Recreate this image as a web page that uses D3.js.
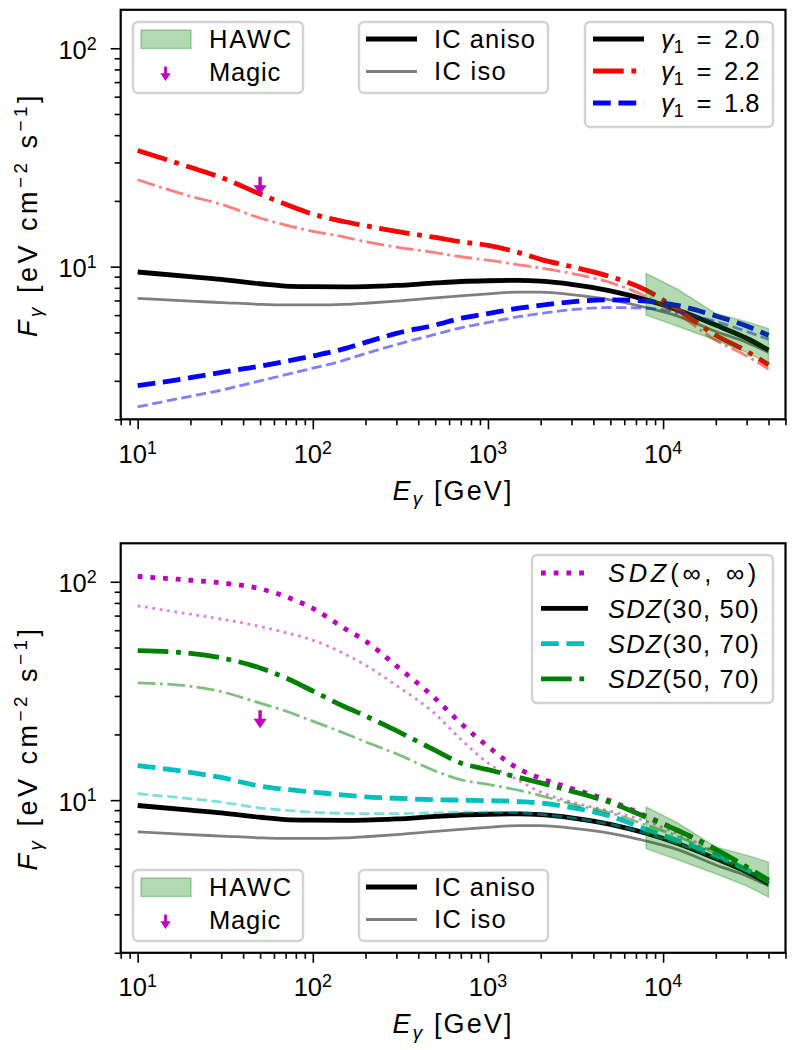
<!DOCTYPE html>
<html><head><meta charset="utf-8">
<script src="https://cdn.jsdelivr.net/npm/d3@7"></script>
<style>body{margin:0;background:#fff} text{white-space:pre; font-family:"Liberation Sans", Arial, sans-serif;}</style>
</head><body>
<svg id="c" width="794" height="1050" xmlns="http://www.w3.org/2000/svg"></svg>
<script>
// ---------------- data ----------------
const energies = [10, 20, 30, 50, 70, 100, 150, 200, 300, 500, 700, 1000, 1500, 2000, 3000, 5000, 8000, 12000, 20000, 30000, 40000];
// top panel (gamma_1 variations); aniso = thick, iso = thin
const g20Aniso = [9.45, 9.0, 8.75, 8.35, 8.15, 8.1, 8.08, 8.1, 8.2, 8.42, 8.55, 8.62, 8.65, 8.58, 8.3, 7.75, 7.05, 6.35, 5.4, 4.7, 4.15];
const g20Iso   = [7.16, 6.95, 6.85, 6.72, 6.68, 6.68, 6.72, 6.8, 6.95, 7.2, 7.35, 7.5, 7.65, 7.65, 7.45, 7.05, 6.5, 5.95, 5.05, 4.5, 4.05];
const g22Aniso = [34, 28.5, 25.6, 21.5, 19.3, 17.4, 16.1, 15.4, 14.5, 13.6, 13.0, 12.5, 11.6, 10.8, 10.0, 9.0, 7.8, 6.4, 4.85, 4.1, 3.55];
const g22Iso   = [25, 21, 19.3, 16.7, 15.5, 14.5, 13.7, 13.0, 12.3, 11.6, 11.1, 10.7, 10.2, 9.85, 9.3, 8.45, 7.3, 6.1, 4.6, 3.9, 3.4];
const g18Aniso = [2.85, 3.1, 3.28, 3.5, 3.68, 3.9, 4.2, 4.5, 4.95, 5.4, 5.8, 6.1, 6.45, 6.65, 6.9, 7.05, 6.95, 6.65, 5.95, 5.35, 4.85];
const g18Iso   = [2.28, 2.55, 2.72, 3.0, 3.2, 3.43, 3.72, 4.0, 4.4, 4.9, 5.25, 5.55, 5.9, 6.1, 6.35, 6.5, 6.45, 6.2, 5.6, 5.05, 4.65];
// bottom panel (SDZ variations)
const sdzInfAniso  = [105.8, 101.6, 98.8, 92.9, 85.5, 75.5, 61.5, 53.5, 41.2, 29.2, 22.5, 17.6, 13.9, 12.6, 11.3, 9.9, 8.45, 7.3, 5.95, 4.9, 4.3];
const sdzInfIso    = [77.6, 71, 67.5, 62.4, 58.5, 54, 47, 41.5, 33.5, 24.8, 19.0, 14.8, 12.3, 10.9, 9.8, 8.9, 8.0, 7.05, 5.75, 4.8, 4.2];
const sdz3050Aniso = g20Aniso;
const sdz3050Iso   = g20Iso;
const sdz3070Aniso = [14.4, 13.4, 12.7, 11.6, 11.2, 10.9, 10.55, 10.35, 10.2, 10.05, 10.0, 9.95, 9.85, 9.7, 9.25, 8.45, 7.35, 6.55, 5.6, 4.8, 4.25];
const sdz3070Iso   = [10.7, 10.15, 9.8, 9.2, 9.0, 8.8, 8.7, 8.67, 8.67, 8.75, 8.8, 8.82, 8.75, 8.6, 8.3, 7.75, 7.05, 6.35, 5.45, 4.75, 4.2];
const sdz5070Aniso = [48.4, 47, 44.8, 40.3, 36.3, 31.6, 26.9, 24.3, 20.8, 16.9, 14.8, 13.8, 12.7, 12.0, 11.0, 9.75, 8.35, 7.3, 5.95, 4.95, 4.3];
const sdz5070Iso   = [34.4, 33.2, 31.4, 27.8, 25.6, 23.0, 20.3, 18.5, 16.3, 13.6, 12.4, 11.8, 11.1, 10.5, 9.6, 8.75, 7.7, 6.85, 5.7, 4.8, 4.2];
// HAWC band
const hawcE     = [8000, 12000, 20000, 30000, 40000];
const hawcUpper = [9.3, 7.9, 6.1, 5.6, 5.2];
const hawcLower = [6.0, 5.35, 4.6, 4.05, 3.6];
// MAGIC upper limit
const magicE  = [50];
const magicUL = [25.8];
// axes
const xDomain = [8, 5e4];
const yDomain = [2, 150];
const xMajorTicks = [10, 100, 1000, 10000];
const yMajorTicks = [10, 100];
const topLegendLabels = ["γ₁ = 2.0", "γ₁ = 2.2", "γ₁ = 1.8"];
const sdzLabels = ["(∞, ∞)", "(30, 50)", "(30, 70)", "(50, 70)"];

// ---------------- styling ----------------
const FONT = '"Liberation Sans", Arial, sans-serif';
const FS = 25.5;      // tick + legend text
const FSL = 27;       // axis labels
const THICK = 4.8, THIN = 2.8;
const C = {k: '#000000', r: '#ff0000', b: '#0000ff', m: '#bf00bf', c: '#00bfbf', g: '#008000'};
const L = 120.7, W = 664.8, H = 409.5;

function dashFor(type, w) {
  if (type === 'dashdot') return [6.4, 1.6, 1, 1.6].map(d => d * w).join(',');
  if (type === 'dashed') return [3.7, 1.6].map(d => d * w).join(',');
  if (type === 'dotted') return [1, 1.65].map(d => d * w).join(',');
  return null;
}

function rich(sel, parts, fs, attrs, fitW) {
  const t = sel.append('text').attr('font-family', FONT).style('font-family', FONT)
    .style('font-size', fs + 'px').attr('fill', '#000');
  Object.entries(attrs).forEach(([k, v]) => t.attr(k, v));
  let shift = 0;
  parts.forEach(p => {
    const ts = t.append('tspan').text(p.t);
    let target = p.s === 'sup' ? -0.36 * fs : p.s === 'sub' ? 0.2 * fs : 0;
    if (target - shift !== 0) ts.attr('dy', target - shift);
    shift = target;
    if (p.s) ts.style('font-size', (fs * 0.7) + 'px');
    if (p.i) ts.style('font-style', 'italic');
  });
  if (fitW) {
    const w = t.node().getComputedTextLength();
    const n = parts.map(p => p.t).join('').length;
    if (n > 1) t.style('letter-spacing', ((fitW - w) / n) + 'px');
  }
  return t;
}

const svg = d3.select('#c');
svg.append('rect').attr('width', 794).attr('height', 1050).attr('fill', '#fff');

const x = d3.scaleLog().domain(xDomain).range([0, W]);
const y = d3.scaleLog().domain(yDomain).range([H, 0]);

function seriesData(vals) { return energies.map((e, i) => ({e, v: vals[i]})); }

function magicArrow(g, px, py, s) {
  g.append('line').attr('x1', px).attr('x2', px).attr('y1', py).attr('y2', py + 10 * s)
    .attr('stroke', C.m).attr('stroke-width', 3.4 * s);
  g.append('path').attr('d', `M${px - 6.5 * s},${py + 8.5 * s}L${px + 6.5 * s},${py + 8.5 * s}L${px},${py + 18 * s}Z`)
    .attr('fill', C.m);
}

function legendBox(g, x0, y0, w, h) {
  g.append('rect').attr('x', x0).attr('y', y0).attr('width', w).attr('height', h)
    .attr('rx', 5).attr('ry', 5).attr('fill', '#fff').attr('fill-opacity', 0.8)
    .attr('stroke', '#d3d3d3').attr('stroke-width', 2.4);
}

function legendLine(g, x0, x1, yy, color, w, dash, op) {
  const l = g.append('line').attr('x1', x0).attr('x2', x1).attr('y1', yy).attr('y2', yy)
    .attr('stroke', color).attr('stroke-width', w).attr('stroke-opacity', op);
  const d = dashFor(dash, w);
  if (d) l.attr('stroke-dasharray', d);
}

function drawPanel(top, series, legendFn) {
  const g = svg.append('g').attr('transform', `translate(${L},${top})`);
  const line = d3.line().x(d => x(d.e)).y(d => y(d.v)).curve(d3.curveMonotoneX);
  series.forEach(s => {
    const p = g.append('path').datum(seriesData(s.vals)).attr('d', line)
      .attr('fill', 'none').attr('stroke', s.color).attr('stroke-width', s.w)
      .attr('stroke-opacity', s.op).attr('stroke-linejoin', 'round');
    const d = dashFor(s.dash, s.w);
    if (d) p.attr('stroke-dasharray', d);
  });
  // HAWC band
  const band = hawcE.map((e, i) => ({e, lo: hawcLower[i], hi: hawcUpper[i]}));
  g.append('path').datum(band)
    .attr('d', d3.area().x(d => x(d.e)).y0(d => y(d.lo)).y1(d => y(d.hi)))
    .attr('fill', C.g).attr('fill-opacity', 0.3).attr('stroke', C.g).attr('stroke-opacity', 0.3).attr('stroke-width', 1.5);
  // Magic
  magicE.forEach((e, i) => magicArrow(g, x(e), y(magicUL[i]), 1));
  // frame
  g.append('rect').attr('width', W).attr('height', H).attr('fill', 'none').attr('stroke', '#000').attr('stroke-width', 2.2);
  // ticks
  const xMinor = [];
  for (let dec = 1; dec <= 1e4; dec *= 10) for (let m = 2; m <= 9; m++) {
    const v = m * dec; if (v >= xDomain[0] && v <= xDomain[1]) xMinor.push(v);
  }
  const yMinor = [];
  for (let dec = 1; dec <= 100; dec *= 10) for (let m = 2; m <= 9; m++) {
    const v = m * dec; if (v >= yDomain[0] && v <= yDomain[1]) yMinor.push(v);
  }
  const ax = g.append('g').attr('transform', `translate(0,${H})`);
  ax.call(d3.axisBottom(x).tickValues(xMajorTicks).tickSize(10).tickSizeOuter(0).tickFormat(''));
  ax.append('g').call(d3.axisBottom(x).tickValues(xMinor.filter(v => xMajorTicks.indexOf(v) < 0)).tickSize(6).tickSizeOuter(0).tickFormat(''));
  const ay = g.append('g');
  ay.call(d3.axisLeft(y).tickValues(yMajorTicks).tickSize(10).tickSizeOuter(0).tickFormat(''));
  ay.append('g').call(d3.axisLeft(y).tickValues(yMinor.filter(v => yMajorTicks.indexOf(v) < 0)).tickSize(6).tickSizeOuter(0).tickFormat(''));
  g.selectAll('.domain').remove();
  ax.selectAll('line').attr('stroke-width', 2);
  ay.selectAll('line').attr('stroke-width', 2);
  ax.selectAll('g g line').attr('stroke-width', 1.6);
  ay.selectAll('g g line').attr('stroke-width', 1.6);
  // tick labels
  xMajorTicks.forEach(v => {
    rich(g, [{t: '10'}, {t: String(Math.round(Math.log10(v))), s: 'sup'}], FS,
      {x: x(v), y: H + 43.7, 'text-anchor': 'middle'});
  });
  yMajorTicks.forEach(v => {
    rich(g, [{t: '10'}, {t: String(Math.round(Math.log10(v))), s: 'sup'}], FS,
      {x: -24, y: y(v) + 10.5, 'text-anchor': 'end'});
  });
  // axis labels
  rich(g, [{t: 'E', i: 1}, {t: 'γ', s: 'sub', i: 1}, {t: ' [GeV]'}], FSL,
    {x: W / 2, y: H + 80.7, 'text-anchor': 'middle'}, 121);
  rich(g, [{t: 'F', i: 1}, {t: 'γ', s: 'sub', i: 1}, {t: ' [eV cm'}, {t: '−2', s: 'sup'}, {t: ' s'}, {t: '−1', s: 'sup'}, {t: ']'}], FSL,
    {transform: `translate(${37 - L},${H / 2}) rotate(-90)`, 'text-anchor': 'middle'}, 245);
  legendFn(g);
}

function obsLegend(g, oy) {
  // HAWC + Magic
  legendBox(g, 133 - L, oy, 170, 71);
  g.append('rect').attr('x', 141 - L).attr('y', oy + 8).attr('width', 50).attr('height', 18.5)
    .attr('fill', C.g).attr('fill-opacity', 0.3).attr('stroke', C.g).attr('stroke-opacity', 0.3).attr('stroke-width', 1.5);
  rich(g, [{t: 'HAWC'}], FS, {x: 209 - L, y: oy + 26.5}, 84);
  magicArrow(g, 165.5 - L, oy + 44.5, 0.8);
  rich(g, [{t: 'Magic'}], FS, {x: 209 - L, y: oy + 59}, 72);
  // IC aniso / iso
  legendBox(g, 359 - L, oy, 189, 71);
  legendLine(g, 366 - L, 417 - L, oy + 17, C.k, THICK, 'solid', 1);
  legendLine(g, 366 - L, 417 - L, oy + 49.5, C.k, THIN, 'solid', 0.5);
  rich(g, [{t: 'IC aniso'}], FS, {x: 434 - L, y: oy + 26.5}, 102);
  rich(g, [{t: 'IC iso'}], FS, {x: 434 - L, y: oy + 58.5}, 73);
}

// ---------------- top panel ----------------
drawPanel(9.8, [
  {vals: g20Aniso, color: C.k, w: THICK, dash: 'solid', op: 1},
  {vals: g20Iso, color: C.k, w: THIN, dash: 'solid', op: 0.5},
  {vals: g22Aniso, color: C.r, w: THICK, dash: 'dashdot', op: 1},
  {vals: g22Iso, color: C.r, w: THIN, dash: 'dashdot', op: 0.5},
  {vals: g18Aniso, color: C.b, w: THICK, dash: 'dashed', op: 1},
  {vals: g18Iso, color: C.b, w: THIN, dash: 'dashed', op: 0.5},
], g => {
  obsLegend(g, 22 - 9.8);
  const oy = 22 - 9.8;
  legendBox(g, 585 - L, oy, 188, 105);
  const sty = [[C.k, 'solid'], [C.r, 'dashdot'], [C.b, 'dashed']];
  topLegendLabels.forEach((lab, i) => {
    const ry = oy + 17 + i * 32;
    legendLine(g, 593 - L, 644 - L, ry, sty[i][0], THICK, sty[i][1], 1);
    const num = lab.split('= ')[1];
    rich(g, [{t: 'γ', i: 1}, {t: '1', s: 'sub'}, {t: '\u2002=\u2002' + num}], FS, {x: 661 - L, y: ry + 9.3});
  });
});

// ---------------- bottom panel ----------------
drawPanel(543.3, [
  {vals: sdzInfAniso, color: C.m, w: THICK, dash: 'dotted', op: 1},
  {vals: sdzInfIso, color: C.m, w: THIN, dash: 'dotted', op: 0.5},
  {vals: sdz3050Aniso, color: C.k, w: THICK, dash: 'solid', op: 1},
  {vals: sdz3050Iso, color: C.k, w: THIN, dash: 'solid', op: 0.5},
  {vals: sdz3070Aniso, color: C.c, w: THICK, dash: 'dashed', op: 1},
  {vals: sdz3070Iso, color: C.c, w: THIN, dash: 'dashed', op: 0.5},
  {vals: sdz5070Aniso, color: C.g, w: THICK, dash: 'dashdot', op: 1},
  {vals: sdz5070Iso, color: C.g, w: THIN, dash: 'dashdot', op: 0.5},
], g => {
  const top = 543.3;
  legendBox(g, 532 - L, 555 - top, 241, 148);
  const sty = [[C.m, 'dotted'], [C.k, 'solid'], [C.c, 'dashed'], [C.g, 'dashdot']];
  sdzLabels.forEach((lab, i) => {
    const ry = 573 - top + i * 35.3;
    legendLine(g, 541 - L, 588 - L, ry, sty[i][0], THICK, sty[i][1], 1);
    rich(g, [{t: 'SDZ', i: 1}, {t: lab}], FS, {x: 608 - L, y: ry + 9.3}, 152);
  });
  obsLegend(g, 870 - top);
});
</script>
</body></html>
